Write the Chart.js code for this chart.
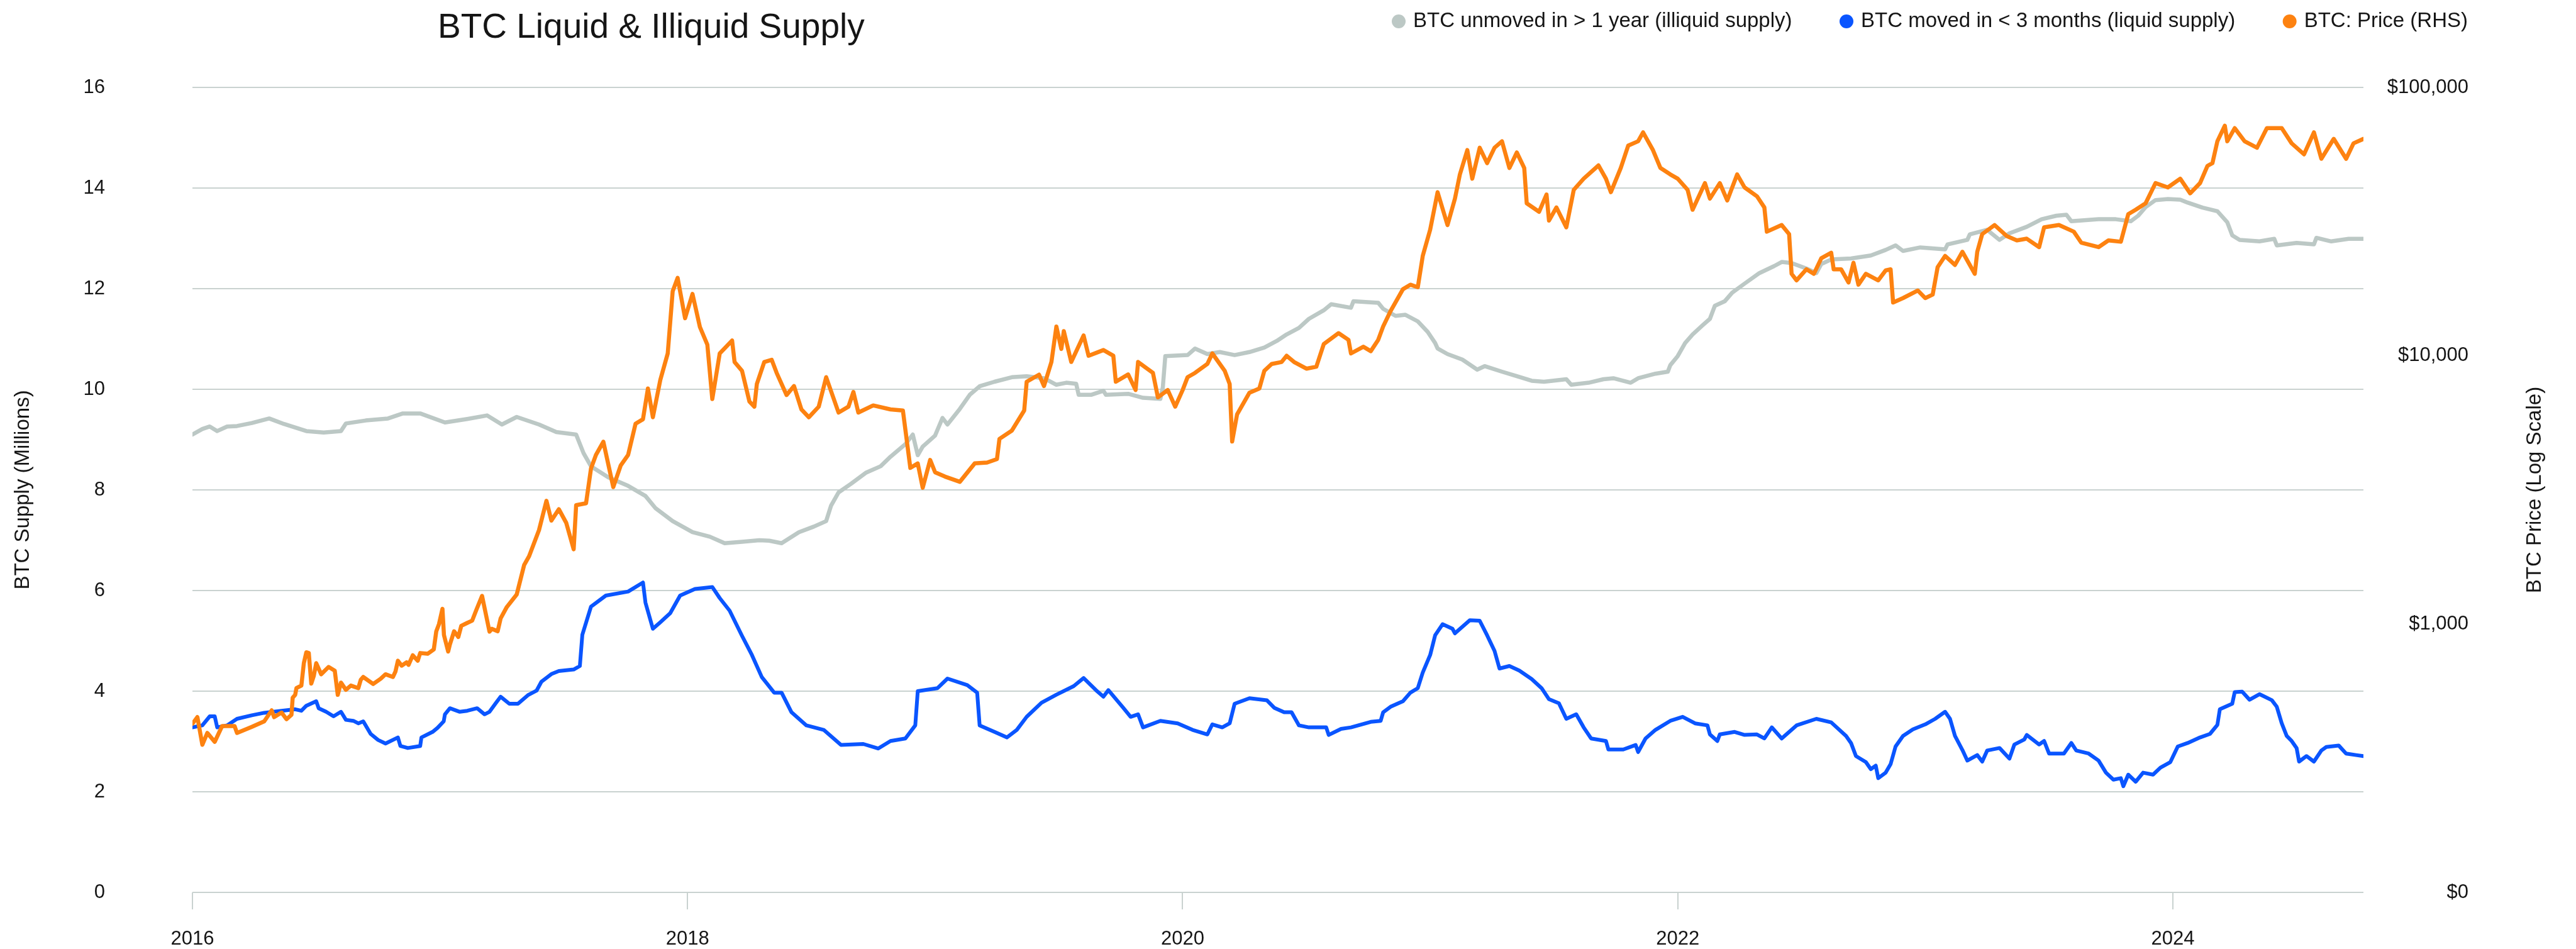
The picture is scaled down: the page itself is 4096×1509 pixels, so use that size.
<!DOCTYPE html>
<html>
<head>
<meta charset="utf-8">
<title>BTC Liquid & Illiquid Supply</title>
<script src="https://cdn.jsdelivr.net/npm/chart.js@4.4.1/dist/chart.umd.min.js"></script>
<style>
  html, body { margin: 0; padding: 0; background: #fff; overflow: hidden; }
  canvas { display: block; }
</style>
</head>
<body>
<canvas id="chart" width="4096" height="1509"></canvas>
<script>
// BTC unmoved in > 1 year (millions of BTC), by decimal year
const illiquidDates = [
  2016.00, 2016.04, 2016.07, 2016.10, 2016.14, 2016.18, 2016.24, 2016.31, 2016.37, 2016.46,
  2016.53, 2016.60, 2016.62, 2016.70, 2016.79, 2016.85, 2016.92, 2017.02, 2017.11, 2017.19,
  2017.25, 2017.31, 2017.40, 2017.47, 2017.55, 2017.58, 2017.61, 2017.68, 2017.76, 2017.83,
  2017.87, 2017.94, 2018.02, 2018.09, 2018.15, 2018.22, 2018.29, 2018.33, 2018.38, 2018.45,
  2018.51, 2018.56, 2018.58, 2018.61, 2018.66, 2018.72, 2018.78, 2018.82, 2018.88, 2018.91,
  2018.93, 2018.95, 2019.00, 2019.03, 2019.05, 2019.10, 2019.14, 2019.18, 2019.24, 2019.31,
  2019.37, 2019.44, 2019.49, 2019.53, 2019.57, 2019.58, 2019.63, 2019.68, 2019.69, 2019.78,
  2019.84, 2019.91, 2019.92, 2019.93, 2020.02, 2020.05, 2020.10, 2020.15, 2020.21, 2020.27,
  2020.33, 2020.38, 2020.42, 2020.47, 2020.51, 2020.57, 2020.60, 2020.68, 2020.69, 2020.79,
  2020.81, 2020.86, 2020.90, 2020.95, 2020.99, 2021.02, 2021.03, 2021.07, 2021.13, 2021.19,
  2021.22, 2021.29, 2021.35, 2021.41, 2021.46, 2021.55, 2021.57, 2021.64, 2021.70, 2021.74,
  2021.81, 2021.84, 2021.91, 2021.96, 2021.97, 2022.00, 2022.03, 2022.06, 2022.10, 2022.13,
  2022.15, 2022.19, 2022.22, 2022.27, 2022.33, 2022.39, 2022.42, 2022.46, 2022.52, 2022.56,
  2022.58, 2022.62, 2022.70, 2022.78, 2022.84, 2022.88, 2022.91, 2022.98, 2023.08, 2023.09,
  2023.17, 2023.18, 2023.25, 2023.30, 2023.34, 2023.41, 2023.47, 2023.53, 2023.57, 2023.59,
  2023.70, 2023.77, 2023.83, 2023.86, 2023.89, 2023.93, 2023.98, 2024.03, 2024.06, 2024.12,
  2024.18, 2024.22, 2024.24, 2024.27, 2024.35, 2024.41, 2024.42, 2024.50, 2024.57, 2024.58,
  2024.64, 2024.71, 2024.77
];
const illiquidSupply = [
  9.10, 9.21, 9.26, 9.17, 9.26, 9.27, 9.33, 9.42, 9.31, 9.17,
  9.14, 9.17, 9.32, 9.38, 9.42, 9.52, 9.52, 9.34, 9.41, 9.48,
  9.30, 9.45, 9.30, 9.15, 9.10, 8.73, 8.47, 8.25, 8.08, 7.88,
  7.64, 7.38, 7.16, 7.07, 6.94, 6.97, 7.00, 6.99, 6.94, 7.16,
  7.27, 7.38, 7.69, 7.95, 8.12, 8.34, 8.47, 8.66, 8.91, 9.10,
  8.69, 8.86, 9.08, 9.43, 9.30, 9.61, 9.89, 10.06, 10.15, 10.24,
  10.26, 10.22, 10.09, 10.13, 10.11, 9.89, 9.89, 9.97, 9.89, 9.91,
  9.83, 9.81, 10.04, 10.66, 10.68, 10.81, 10.70, 10.74, 10.68, 10.74,
  10.83, 10.96, 11.09, 11.22, 11.40, 11.57, 11.69, 11.62, 11.75, 11.72,
  11.60, 11.46, 11.48, 11.35, 11.14, 10.92, 10.81, 10.70, 10.59, 10.39,
  10.46, 10.35, 10.26, 10.17, 10.15, 10.20, 10.09, 10.13, 10.20, 10.22,
  10.13, 10.22, 10.31, 10.35, 10.48, 10.66, 10.92, 11.09, 11.27, 11.40,
  11.66, 11.75, 11.92, 12.10, 12.31, 12.45, 12.53, 12.51, 12.40, 12.31,
  12.49, 12.58, 12.60, 12.66, 12.77, 12.86, 12.75, 12.82, 12.78, 12.88,
  12.97, 13.08, 13.17, 12.97, 13.10, 13.23, 13.38, 13.45, 13.47, 13.34,
  13.38, 13.38, 13.34, 13.45, 13.62, 13.76, 13.78, 13.77, 13.71, 13.61,
  13.54, 13.32, 13.06, 12.97, 12.94, 12.99, 12.86, 12.91, 12.88, 13.01,
  12.94, 12.99, 12.99
];

// BTC moved in < 3 months (millions of BTC)
const liquidDates = [
  2016.00, 2016.04, 2016.07, 2016.09, 2016.10, 2016.14, 2016.18, 2016.24, 2016.29, 2016.415,
  2016.44, 2016.46, 2016.50, 2016.51, 2016.54, 2016.57, 2016.60, 2016.62, 2016.65, 2016.67,
  2016.69, 2016.72, 2016.75, 2016.78, 2016.83, 2016.84, 2016.87, 2016.92, 2016.925, 2016.97,
  2016.99, 2017.015, 2017.02, 2017.04, 2017.08, 2017.11, 2017.15, 2017.18, 2017.20, 2017.225,
  2017.245, 2017.28, 2017.315, 2017.355, 2017.39, 2017.41, 2017.45, 2017.48, 2017.54, 2017.565,
  2017.575, 2017.61, 2017.67,
  2017.76, 2017.82, 2017.83, 2017.86, 2017.89, 2017.93, 2017.97, 2018.03, 2018.10, 2018.13,
  2018.17, 2018.22, 2018.26, 2018.30, 2018.35, 2018.38, 2018.42, 2018.48, 2018.55, 2018.62,
  2018.71, 2018.77, 2018.82, 2018.88, 2018.92, 2018.93, 2019.01, 2019.05, 2019.13, 2019.17,
  2019.18, 2019.24, 2019.29, 2019.33, 2019.37, 2019.43, 2019.49, 2019.56, 2019.60, 2019.65,
  2019.68, 2019.70, 2019.76, 2019.79, 2019.82, 2019.84, 2019.91, 2019.98, 2020.04, 2020.10,
  2020.12, 2020.16, 2020.19, 2020.21, 2020.27, 2020.34, 2020.37, 2020.41, 2020.44, 2020.47,
  2020.51, 2020.58, 2020.59, 2020.64, 2020.68, 2020.76, 2020.80, 2020.81, 2020.84, 2020.89,
  2020.92, 2020.95, 2020.97, 2021.00, 2021.02, 2021.05, 2021.09, 2021.10, 2021.16, 2021.20,
  2021.23, 2021.26, 2021.28, 2021.32, 2021.36, 2021.41, 2021.45, 2021.48, 2021.52, 2021.55,
  2021.59, 2021.62, 2021.65, 2021.71, 2021.72, 2021.78, 2021.83, 2021.84, 2021.87, 2021.91,
  2021.97, 2022.02, 2022.07, 2022.12, 2022.13, 2022.16, 2022.17, 2022.23, 2022.27, 2022.32,
  2022.35, 2022.38, 2022.42, 2022.48, 2022.56, 2022.62, 2022.68, 2022.70, 2022.72, 2022.76,
  2022.78, 2022.80, 2022.81, 2022.84, 2022.86, 2022.88, 2022.91, 2022.95, 2023.00, 2023.04,
  2023.08, 2023.10, 2023.12, 2023.15, 2023.17, 2023.21, 2023.23, 2023.25, 2023.30, 2023.34,
  2023.36, 2023.40, 2023.41, 2023.46, 2023.48, 2023.50, 2023.56, 2023.59, 2023.61, 2023.66,
  2023.70, 2023.73, 2023.76, 2023.79, 2023.80, 2023.82, 2023.85, 2023.88, 2023.92, 2023.95,
  2023.99, 2024.02, 2024.06, 2024.11, 2024.15, 2024.18, 2024.19, 2024.24, 2024.25, 2024.28,
  2024.31, 2024.35, 2024.40, 2024.42, 2024.44, 2024.46, 2024.48, 2024.50, 2024.51, 2024.54,
  2024.57, 2024.60, 2024.62, 2024.67, 2024.70, 2024.74, 2024.77
];
const liquidSupply = [
  3.28, 3.32, 3.50, 3.50, 3.28, 3.32, 3.45, 3.52, 3.57, 3.64,
  3.61, 3.71, 3.80, 3.66, 3.59, 3.50, 3.59, 3.43, 3.41, 3.36,
  3.40, 3.15, 3.03, 2.96, 3.08, 2.91, 2.87, 2.91, 3.08, 3.19,
  3.27, 3.40, 3.54, 3.66, 3.59, 3.61, 3.66, 3.54, 3.59, 3.76,
  3.89, 3.75, 3.75, 3.92, 4.01, 4.19, 4.34, 4.40, 4.43, 4.50,
  5.12, 5.68, 5.90,
  5.98, 6.16, 5.76, 5.24, 5.37, 5.55, 5.90, 6.03, 6.07, 5.85,
  5.60, 5.10, 4.72, 4.28, 3.97, 3.97, 3.58, 3.32, 3.23, 2.93,
  2.95, 2.86, 3.01, 3.06, 3.32, 4.00, 4.06, 4.25, 4.12, 3.97,
  3.32, 3.19, 3.08, 3.23, 3.49, 3.77, 3.93, 4.10, 4.26, 4.02,
  3.89, 4.02, 3.67, 3.49, 3.54, 3.28, 3.41, 3.36, 3.23, 3.14,
  3.34, 3.28, 3.36, 3.75, 3.86, 3.82, 3.67, 3.58, 3.58, 3.32,
  3.28, 3.28, 3.13, 3.25, 3.28, 3.39, 3.41, 3.58, 3.69, 3.80,
  3.97, 4.06, 4.37, 4.72, 5.11, 5.33, 5.24, 5.15, 5.41, 5.40,
  5.11, 4.80, 4.45, 4.50, 4.41, 4.24, 4.06, 3.84, 3.76, 3.45,
  3.54, 3.28, 3.06, 3.01, 2.84, 2.84, 2.93, 2.79, 3.06, 3.23,
  3.41, 3.49, 3.36, 3.32, 3.14, 3.01, 3.14, 3.19, 3.13, 3.14,
  3.06, 3.28, 3.06, 3.32, 3.45, 3.38, 3.11, 2.97, 2.71, 2.59,
  2.45, 2.52, 2.27, 2.38, 2.55, 2.90, 3.11, 3.24, 3.34, 3.45,
  3.59, 3.45, 3.11, 2.83, 2.62, 2.73, 2.60, 2.82, 2.87, 2.66,
  2.94, 3.04, 3.13, 2.94, 3.01, 2.76, 2.76, 2.97, 2.82, 2.76,
  2.62, 2.38, 2.24, 2.27, 2.11, 2.34, 2.20, 2.38, 2.34, 2.48,
  2.59, 2.90, 2.97, 3.08, 3.15, 3.33, 3.64, 3.75, 3.98, 3.99,
  3.83, 3.94, 3.82, 3.69, 3.36, 3.11, 3.01, 2.87, 2.60, 2.71,
  2.60, 2.82, 2.89, 2.92, 2.76, 2.73, 2.71
];

// BTC price in USD (right axis, log scale)
const priceDates = [
  2016.00, 2016.02, 2016.04, 2016.06, 2016.09, 2016.12, 2016.17, 2016.18, 2016.24, 2016.29,
  2016.32, 2016.33, 2016.36, 2016.38, 2016.40, 2016.405, 2016.415, 2016.42, 2016.44, 2016.45,
  2016.46, 2016.47, 2016.48, 2016.49, 2016.50, 2016.52, 2016.55, 2016.575, 2016.587, 2016.60,
  2016.62, 2016.64, 2016.67, 2016.68, 2016.69, 2016.73, 2016.76, 2016.78, 2016.81, 2016.82,
  2016.83, 2016.845, 2016.865, 2016.873, 2016.89, 2016.91, 2016.92, 2016.95, 2016.975, 2016.985,
  2016.996, 2017.01, 2017.016, 2017.033, 2017.04, 2017.057, 2017.074, 2017.086, 2017.11, 2017.13,
  2017.147, 2017.17, 2017.20, 2017.21, 2017.233, 2017.245, 2017.27, 2017.31,
  2017.34, 2017.36, 2017.40, 2017.43, 2017.45, 2017.48, 2017.51, 2017.54, 2017.55, 2017.59,
  2017.61, 2017.63, 2017.66, 2017.70, 2017.73, 2017.76, 2017.79, 2017.82, 2017.84, 2017.86,
  2017.89, 2017.92, 2017.94, 2017.96, 2017.99, 2018.02, 2018.05, 2018.08, 2018.10, 2018.13,
  2018.18, 2018.19, 2018.22, 2018.25, 2018.27, 2018.28, 2018.31, 2018.34, 2018.36, 2018.40,
  2018.43, 2018.46, 2018.49, 2018.53, 2018.56, 2018.61, 2018.65, 2018.67, 2018.69, 2018.75,
  2018.82, 2018.87, 2018.90, 2018.93, 2018.95, 2018.98, 2019.00, 2019.04, 2019.10, 2019.16,
  2019.21, 2019.25, 2019.26, 2019.31, 2019.36, 2019.37, 2019.42, 2019.44, 2019.47, 2019.49,
  2019.51, 2019.52, 2019.55, 2019.60, 2019.62, 2019.68, 2019.72, 2019.73, 2019.78, 2019.81,
  2019.82, 2019.88, 2019.90, 2019.94, 2019.97, 2020.00, 2020.02, 2020.05, 2020.10, 2020.12,
  2020.17, 2020.19, 2020.20, 2020.22, 2020.27, 2020.31, 2020.33, 2020.36, 2020.40, 2020.42,
  2020.45, 2020.50, 2020.54, 2020.57, 2020.63, 2020.67, 2020.68, 2020.73, 2020.76, 2020.79,
  2020.81, 2020.84, 2020.89, 2020.92, 2020.95, 2020.97, 2021.00, 2021.03, 2021.07, 2021.10,
  2021.12, 2021.15, 2021.17, 2021.20, 2021.23, 2021.26, 2021.29, 2021.32, 2021.35, 2021.38,
  2021.39, 2021.44, 2021.47, 2021.48, 2021.51, 2021.55, 2021.58, 2021.62, 2021.68, 2021.71,
  2021.73, 2021.77, 2021.80, 2021.84, 2021.86, 2021.90, 2021.93, 2021.97, 2022.00, 2022.04,
  2022.06, 2022.11, 2022.13, 2022.17, 2022.20, 2022.24, 2022.27, 2022.32, 2022.35, 2022.36,
  2022.42, 2022.45, 2022.46, 2022.48, 2022.52, 2022.55, 2022.58, 2022.62, 2022.63, 2022.66,
  2022.69, 2022.71, 2022.73, 2022.76, 2022.81, 2022.84, 2022.86, 2022.87, 2022.91, 2022.97,
  2023.00, 2023.03, 2023.05, 2023.08, 2023.12, 2023.15, 2023.20, 2023.21, 2023.23, 2023.28,
  2023.33, 2023.37, 2023.41, 2023.46, 2023.48, 2023.54, 2023.60, 2023.63, 2023.70, 2023.74,
  2023.79, 2023.82, 2023.85, 2023.89, 2023.93, 2023.98, 2024.03, 2024.07, 2024.11, 2024.14,
  2024.16, 2024.18, 2024.21, 2024.22, 2024.25, 2024.29, 2024.34, 2024.38, 2024.44, 2024.48,
  2024.53, 2024.57, 2024.60, 2024.65, 2024.70, 2024.73, 2024.77
];
const btcPrice = [
  425, 450, 355, 393, 364, 417, 417, 393, 414, 434,
  477, 450, 468, 442, 459, 532, 545, 577, 590, 715,
  785, 780, 600, 640, 715, 650, 692, 670, 545, 605,
  569, 590, 577, 620, 635, 598, 625, 650, 635, 665,
  730, 700, 720, 705, 765, 730, 780, 775, 805, 940,
  1000, 1140, 910, 790, 840, 940, 895, 985, 1010, 1030,
  1130, 1273, 937, 960, 940, 1050, 1158, 1290,
  1660, 1790, 2240, 2880, 2430, 2680, 2384, 1900, 2775, 2820,
  3800, 4270, 4780, 3240, 3900, 4270, 5580, 5800, 7550, 5900,
  8130, 10200, 17400, 19500, 13800, 17000, 12800, 11000, 6900, 10200,
  11400, 9480, 8790, 6750, 6460, 7850, 9480, 9660, 8630, 7140,
  7710, 6310, 5900, 6460, 8320, 6140, 6460, 7330, 6140, 6530,
  6310, 6250, 3820, 3970, 3220, 4090, 3680, 3545, 3390, 3970,
  4000, 4120, 4900, 5260, 6250, 8000, 8500, 7710, 9480, 12850,
  10600, 12350, 9480, 11900, 10000, 10500, 10000, 8000, 8520, 7450,
  9480, 8630, 7000, 7450, 6460, 7450, 8320, 8630, 9320, 10200,
  8790, 7850, 4790, 6050, 7280, 7550, 8790, 9320, 9480, 10000,
  9480, 8950, 9100, 11050, 12140, 11460, 10200, 10800, 10400, 11460,
  12850, 14670, 17700, 18400, 18000, 23550, 29500, 40700, 30700, 38500,
  47400, 58400, 45700, 59600, 52200, 59600, 63000, 50100, 57200, 50100,
  37000, 34400, 39900, 31900, 35700, 30100, 41500, 45700, 51200, 45700,
  40700, 50100, 60700, 63000, 68000, 58400, 50100, 47400, 45700, 41500,
  35000, 44000, 38500, 44000, 37900, 47400, 42400, 39300, 35700, 29000,
  30700, 28400, 20200, 19100, 21000, 20200, 23100, 24200, 21000, 21000,
  18750, 22200, 18400, 20200, 19100, 20800, 21000, 15800, 16400, 17500,
  16400, 16900, 21400, 23550, 21800, 24400, 20200, 24400, 28400, 30700,
  27900, 26900, 27300, 25400, 30100, 30700, 29000, 26400, 25400, 26900,
  26600, 33700, 35000, 37000, 44000, 42400, 45700, 40300, 44000, 51000,
  52200, 63000, 72000, 63000, 70500, 63000, 59600, 70500, 70500, 61900,
  56300, 68000, 54200, 64300, 54200, 61900, 64300
];

// axis ticks
const yearTicks = [2016, 2018, 2020, 2022, 2024];
const supplyTicks = [0, 2, 4, 6, 8, 10, 12, 14, 16];
const priceTicks = [100, 1000, 10000, 100000];
const priceTickLabels = ['$0', '$1,000', '$10,000', '$100,000'];

const fontFamily = "'Liberation Sans', Arial, sans-serif";
const textColor = '#151515';
const gridColor = '#c9d2d0';

function toPoints(xs, ys) {
    return xs.map((x, i) => ({ x: x, y: ys[i] }));
}

// title, legend and right axis label drawn straight onto the canvas
const headerPlugin = {
    id: 'header',
    afterDraw(chart) {
        const ctx = chart.ctx;
        const area = chart.chartArea;
        ctx.save();

        ctx.fillStyle = textColor;
        ctx.font = '55px ' + fontFamily;
        ctx.textAlign = 'left';
        ctx.textBaseline = 'alphabetic';
        ctx.fillText('BTC Liquid & Illiquid Supply', 696, 60);

        // legend spread between two edges, dot + label per series
        const legendLeft = 2213, legendRight = 3924, legendY = 34, dotR = 11, dotGap = 12;
        ctx.font = '33px ' + fontFamily;
        ctx.textBaseline = 'middle';
        const datasets = chart.data.datasets;
        const widths = datasets.map(ds => ctx.measureText(ds.label).width);
        const used = widths.reduce((a, b) => a + b, 0) + datasets.length * (dotR * 2 + dotGap);
        const itemGap = (legendRight - legendLeft - used) / (datasets.length - 1);
        let x = legendLeft;
        datasets.forEach((ds, i) => {
            ctx.fillStyle = ds.borderColor;
            ctx.beginPath();
            ctx.arc(x + dotR, legendY, dotR, 0, Math.PI * 2);
            ctx.fill();
            x += dotR * 2 + dotGap;
            ctx.fillStyle = textColor;
            ctx.fillText(ds.label, x, legendY);
            x += widths[i] + itemGap;
        });

        ctx.font = '33px ' + fontFamily;
        ctx.fillStyle = textColor;
        ctx.textAlign = 'center';
        ctx.translate(4031, (area.top + area.bottom) / 2);
        ctx.rotate(-Math.PI / 2);
        ctx.fillText('BTC Price (Log Scale)', 0, 0);
        ctx.restore();
    }
};

Chart.defaults.font.family = fontFamily;
Chart.defaults.color = textColor;

const lineStyle = {
    pointRadius: 0,
    pointHoverRadius: 0,
    tension: 0,
    borderJoinStyle: 'round',
    borderCapStyle: 'round'
};

new Chart(document.getElementById('chart').getContext('2d'), {
    type: 'line',
    data: {
        datasets: [
            Object.assign({
                label: 'BTC unmoved in > 1 year (illiquid supply)',
                data: toPoints(illiquidDates, illiquidSupply),
                borderColor: '#bcc8c5',
                borderWidth: 6.5,
                yAxisID: 'y',
                order: 3
            }, lineStyle),
            Object.assign({
                label: 'BTC moved in < 3 months (liquid supply)',
                data: toPoints(liquidDates, liquidSupply),
                borderColor: '#0a55ff',
                borderWidth: 6,
                yAxisID: 'y',
                order: 2
            }, lineStyle),
            Object.assign({
                label: 'BTC: Price (RHS)',
                data: toPoints(priceDates, btcPrice),
                borderColor: '#fd8210',
                borderWidth: 6.5,
                yAxisID: 'price',
                order: 1
            }, lineStyle)
        ]
    },
    options: {
        responsive: false,
        animation: false,
        devicePixelRatio: 1,
        layout: { padding: { top: 139, right: 171, bottom: 0, left: 0 } },
        plugins: {
            legend: { display: false },
            title: { display: false },
            tooltip: { enabled: false }
        },
        scales: {
            x: {
                type: 'linear',
                min: 2016,
                max: 2024.77,
                afterBuildTicks: axis => { axis.ticks = yearTicks.map(v => ({ value: v })); },
                afterFit: axis => { axis.height = 90; },
                grid: { drawOnChartArea: false, drawTicks: true, tickLength: 27, color: gridColor, lineWidth: 2 },
                border: { display: false },
                ticks: {
                    padding: 29,
                    maxRotation: 0,
                    autoSkip: false,
                    font: { size: 31 },
                    callback: v => String(v)
                }
            },
            y: {
                position: 'left',
                min: 0,
                max: 16,
                afterBuildTicks: axis => { axis.ticks = supplyTicks.map(v => ({ value: v })); },
                afterFit: axis => { axis.width = 306; },
                // invisible tick marks push the labels away from the plot
                grid: { color: gridColor, lineWidth: 2, drawTicks: true, tickLength: 139, tickColor: 'rgba(0,0,0,0)' },
                border: { display: false },
                ticks: { padding: 0, font: { size: 31 } },
                title: {
                    display: true,
                    text: 'BTC Supply (Millions)',
                    font: { size: 33, lineHeight: 1 },
                    padding: { top: 20, bottom: 0 }
                }
            },
            price: {
                type: 'logarithmic',
                position: 'right',
                min: 100,
                max: 100000,
                afterBuildTicks: axis => { axis.ticks = priceTicks.map(v => ({ value: v })); },
                afterFit: axis => { axis.width = 167; },
                grid: { display: false, drawTicks: false },
                border: { display: false },
                ticks: {
                    crossAlign: 'far',
                    padding: 0,
                    font: { size: 31 },
                    callback: v => priceTickLabels[priceTicks.indexOf(v)]
                }
            }
        }
    },
    plugins: [headerPlugin]
});
</script>
</body>
</html>
